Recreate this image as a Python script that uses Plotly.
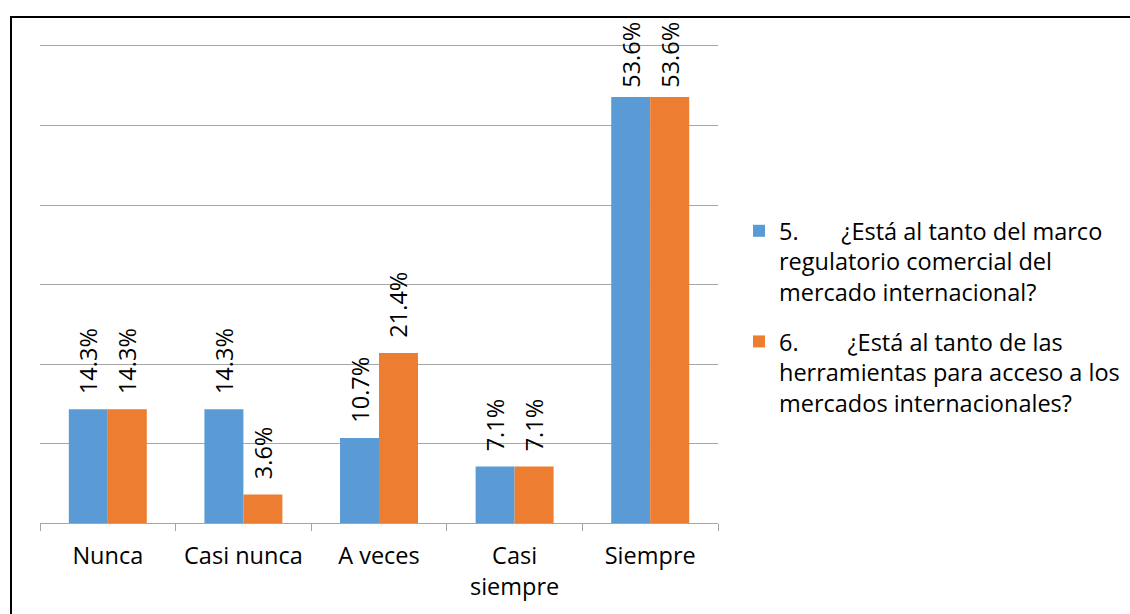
import plotly.graph_objects as go

W, H = 1130, 614

categories = ["Nunca", "Casi nunca", "A veces", "Casi<br>siempre", "Siempre"]
serie_5 = [14.3, 14.3, 10.7, 7.1, 53.6]
serie_6 = [14.3, 3.6, 21.4, 7.1, 53.6]
nombre_5 = "5.\u00a0\u00a0\u00a0\u00a0\u00a0\u00a0\u00a0¿Está al tanto del marco<br>regulatorio comercial del<br>mercado internacional?"
nombre_6 = "6.\u00a0\u00a0\u00a0\u00a0\u00a0\u00a0\u00a0\u00a0¿Está al tanto de las<br>herramientas para acceso a los<br>mercados internacionales?"

FONT = "Open Sans"
FS = 23.5
Y_MAX = 60.3  # a little headroom so the 60 % gridline is drawn


def px_x(p):
    return p / W


def px_y(p):
    return 1 - p / H


# plot area: 0 at y=523 px, 60 at y=46 px
px_per_unit = (523 - 46) / 60
top_px = 523 - Y_MAX * px_per_unit


def label(v):
    # rotated label sits a little above the bar; tall bars get a tighter gap
    pad = "\u00a0" if v > 50 else "\u00a0\u00a0"
    return f"{pad}{v:.1f}%"


fig = go.Figure()
for vals, name, color, grp in [(serie_5, nombre_5, "#5B9BD5", "p5"),
                               (serie_6, nombre_6, "#ED7D31", "p6")]:
    fig.add_trace(go.Bar(
        x=categories, y=vals, name=name, legendgroup=grp,
        marker=dict(color=color, line=dict(width=0)),
        text=[label(v) for v in vals],
        textposition="outside", textangle=-90,
        textfont=dict(family=FONT, size=FS, color="#000000"),
        cliponaxis=False,
        constraintext="none",
    ))

fig.update_layout(
    width=W, height=H,
    margin=dict(l=0, r=0, t=0, b=0),
    paper_bgcolor="white", plot_bgcolor="white",
    barmode="group", bargap=0.425, bargroupgap=0,
    font=dict(family=FONT, size=FS, color="#000000"),
    xaxis=dict(
        domain=[px_x(40), px_x(718)],
        showline=True, linecolor="#A6A6A6", linewidth=1,
        ticks="outside", tickson="boundaries", ticklen=7, tickcolor="#A6A6A6",
        showgrid=False, ticklabelstandoff=12,
        tickfont=dict(family=FONT, size=FS, color="#000000"),
    ),
    yaxis=dict(
        domain=[px_y(523), px_y(top_px)],
        range=[0, Y_MAX], tick0=0, dtick=10,
        showgrid=True, gridcolor="#A6A6A6", gridwidth=1,
        showticklabels=False, showline=False, zeroline=False,
    ),
    legend=dict(
        x=px_x(739), y=px_y(209), xanchor="left", yanchor="top",
        font=dict(family=FONT, size=FS, color="#000000"),
        valign="top", traceorder="grouped", tracegroupgap=16,
        bgcolor="rgba(0,0,0,0)",
    ),
    shapes=[dict(
        type="rect", xref="paper", yref="paper",
        x0=px_x(11), y0=-0.05, x1=1.05, y1=px_y(17),
        line=dict(color="#000000", width=2),
    )],
)

fig.write_html("out.html")
